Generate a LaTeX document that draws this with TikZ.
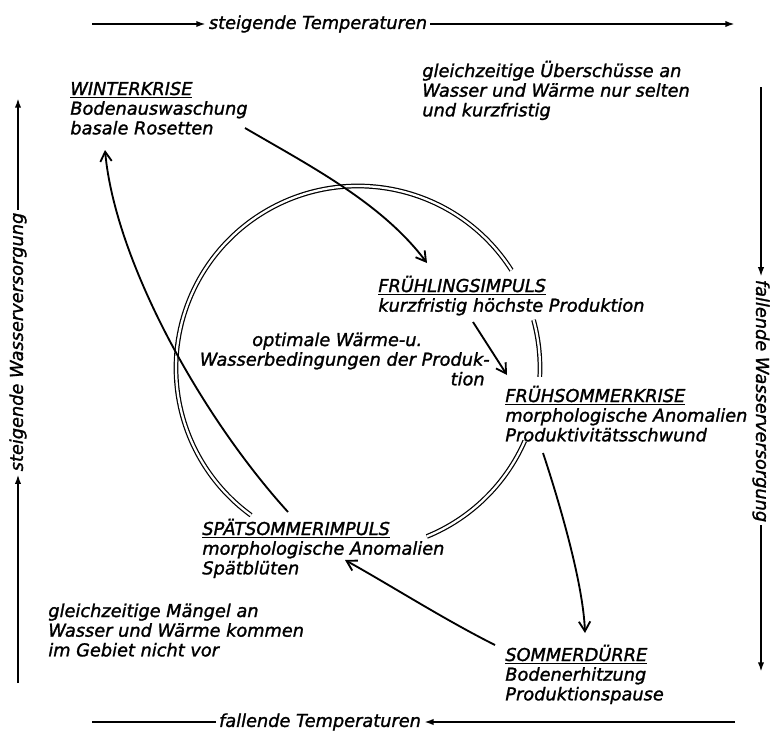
\documentclass[tikz,border=0pt]{standalone}
\usepackage{fontspec}
\setmainfont{DejaVu Sans}[ItalicFeatures={FakeBold=1.4}]
\usetikzlibrary{calc,arrows.meta}

\newcommand{\blk}[1]{\begin{tabular}[t]{@{}l@{}}#1\end{tabular}}

\begin{document}
\begin{tikzpicture}[
  x=0.02cm, y=-0.02cm,
  txt/.style={
    anchor=base west,
    inner sep=0pt,
    font=\fontsize{10.1}{11.2}\selectfont\itshape
    },
  axislbl/.style={
    inner sep=1.5pt,
    font=\fontsize{10.1}{11.2}\selectfont\itshape
    },
  axis/.style={line width=1.1pt},
  axhead/.style={axis, -{Latex[length=5.5pt,width=3.6pt]}},
  conn/.style={line width=1.05pt, -{Straight Barb[length=5.5pt,width=6.5pt]}},
  ring/.style={double, double distance=1.3pt, line width=0.7pt}
]
\useasboundingbox (0,0) rectangle (771,737);

% axes
\node [axislbl] (tempup) at (318,24) {steigende Temperaturen};
\node [axislbl] (tempdown) at (320,722) {fallende Temperaturen};
\node [axislbl, rotate=90] (wasserup) at (18,342) {steigende Wasserversorgung};
\node [axislbl, rotate=-90] (wasserdown) at (761,401) {fallende Wasserversorgung};
\coordinate (tl) at (92,24);
\coordinate (tr) at (735,24);
\coordinate (bl) at (92,722);
\coordinate (br) at (735,722);
\coordinate (lb) at (18,683);
\coordinate (lt) at (18,98);
\coordinate (rt) at (761,87);
\coordinate (rb) at (761,672);
\draw[axhead] (tl) -- (tempup.west);
\draw[axhead] (tempup.east) -- (tr);
\draw[axis] (tempdown.west) -- (bl);
\draw[axhead] (br) -- (tempdown.east);
\draw[axhead] (lb) -- (wasserup.west);
\draw[axhead] (wasserup.east) -- (lt);
\draw[axhead] (rt) -- (wasserdown.west);
\draw[axhead] (wasserdown.east) -- (rb);

% text blocks
\node [txt] (winter) at (70,95) {\blk{\underline{WINTERKRISE}\\ Bodenauswaschung\\ basale Rosetten}};
\node [txt] (ueber) at (422,77) {\blk{gleichzeitige Überschüsse an\\ Wasser und Wärme nur selten\\ und kurzfristig}};
\node [txt] (fruehling) at (378,292) {\blk{\underline{FRÜHLINGSIMPULS}\\ kurzfristig höchste Produktion}};
\node [txt, anchor=base east] (optim) at (490,346) {\begin{tabular}[t]{@{}r@{}}optimale Wärme-u.\hspace*{1.35cm}\\ Wasserbedingungen der Produk-\\ tion\hspace*{0.1cm}\end{tabular}};
\node [txt] (fruehsommer) at (505,402) {\blk{\underline{FRÜHSOMMERKRISE}\\ morphologische Anomalien\\ Produktivitätsschwund}};
\node [txt] (spaet) at (202,535) {\blk{\underline{SPÄTSOMMERIMPULS}\\ morphologische Anomalien\\ Spätblüten}};
\node [txt] (maengel) at (48,617) {\blk{gleichzeitige Mängel an\\ Wasser und Wärme kommen\\ im Gebiet nicht vor}};
\node [txt] (sommer) at (505,661) {\blk{\underline{SOMMERDÜRRE}\\ Bodenerhitzung\\ Produktionspause}};

% double ring
\coordinate (cyc) at (358,368);
\draw[ring] ([shift={(-32.5:182)}]cyc) arc[start angle=-32.5, end angle=-234, radius=182];
\draw[ring] ([shift={(-15.3:182)}]cyc) arc[start angle=-15.3, end angle=2.8, radius=182];
\draw[ring] ([shift={(23.6:182)}]cyc) arc[start angle=23.6, end angle=67.8, radius=182];

% cycle arrows
\draw[conn] ($(winter.base west)+(175,33)$) .. controls (310,166) and (382,203) .. ($(fruehling.base west)+(49,-29)$);
\draw[conn] ($(fruehling.base west)+(95,30)$) -- ($(fruehsommer.base west)+(2,-27)$);
\draw[conn] ($(fruehsommer.base west)+(38,51)$) .. controls (556,492) and (583,580) .. ($(sommer.base west)+(80,-28)$);
\draw[conn] ($(sommer.base west)+(-10,-16)$) .. controls (445,620) and (390,585) .. ($(spaet.base west)+(143,25)$);
\draw[conn] ($(spaet.base west)+(86,-23)$) .. controls (200,415) and (115,260) .. ($(winter.base west)+(35,55)$);
\end{tikzpicture}
\end{document}
